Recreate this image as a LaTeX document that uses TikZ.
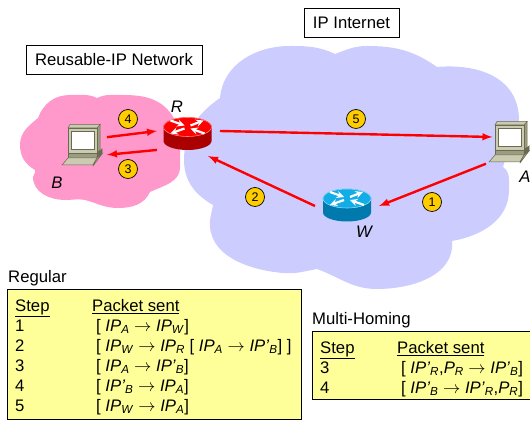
\documentclass[tikz,border=0pt]{standalone}
\usepackage{fontspec}
\setmainfont{Liberation Sans}
\definecolor{netblue}{HTML}{CCCCFF}
\definecolor{netpink}{HTML}{FF99CC}
\definecolor{steplabel}{HTML}{FFCC00}
\definecolor{tableyellow}{HTML}{FFFF99}
\definecolor{routerred}{HTML}{FF0000}
\definecolor{routerredside}{HTML}{AA0000}
\definecolor{routerblue}{HTML}{12ADE6}
\definecolor{routerblueside}{HTML}{0079AC}
\definecolor{laptoplight}{HTML}{CBCBB2}
\definecolor{laptopmid}{HTML}{9C9C80}
\definecolor{laptopdark}{HTML}{6A6A52}
\newcommand{\ip}[2]{\textit{#1}\textsubscript{\textit{#2}}}
\newcommand{\router}[4]{\begin{scope}[shift={(#1,#2)}]
        \fill[#4] (-24,0) -- (-24,-14) arc[start angle=180,end angle=360,x radius=24,y radius=9] -- (24,0) -- cycle;
        \draw[#3,fill=#3] (0,0) circle [x radius=24,y radius=9.5];
        \draw[#3!50!white,line width=.6] (-24,0) arc[start angle=180,end angle=360,x radius=24,y radius=9.5] (24,0) arc[start angle=0,end angle=180,x radius=24,y radius=9.5];
        \draw[white,line width=2.2,-stealth] (-17,6.5) -- (-3,1.5);
        \draw[white,line width=2.2,-stealth] (3,1.5) -- (16,6.5);
        \draw[white,line width=2.2,-stealth] (-3,-1.5) -- (-17,-6.5);
        \draw[white,line width=2.2,-stealth] (17,-6.5) -- (3,-1.5);
      \end{scope}}
\newcommand{\laptop}[2]{\begin{scope}[shift={(#1,#2)},draw=laptopdark,line width=.5]
        \filldraw[fill=laptopmid] (13,18) -- (16,21.5) -- (16,-4) -- (13,-7) -- cycle;
        \filldraw[fill=laptoplight] (-16,18) -- (-14,21.5) -- (16,21.5) -- (13,18) -- cycle;
        \filldraw[fill=laptoplight] (-16,18) rectangle (13,-7);
        \filldraw[fill=white,line width=1] (-12.5,14) rectangle (10,-4);
        \filldraw[fill=laptopmid] (-16,-7) rectangle (13,-12);
        \filldraw[fill=laptopdark] (13,-7) -- (18,-3) -- (18,-8) -- (13,-12) -- cycle;
        \filldraw[fill=laptoplight] (-22,-19) -- (9,-19) -- (13,-12) -- (-16,-12) -- cycle;
        \filldraw[fill=laptopmid] (9,-19) -- (13,-12) -- (18,-8) -- (9,-20) -- cycle;
      \end{scope}}
\begin{document}
\begin{tikzpicture}[x=1pt,y=1pt,font=\fontsize{16.7}{20}\selectfont,
        spot/.style={inner sep=0pt,outer sep=0pt},
        titlebox/.style={draw=black,line width=.8,fill=white,inner sep=0pt},
        tablebox/.style={draw=black,line width=1,fill=tableyellow,anchor=north west,inner sep=0pt},
        tablerows/.style={anchor=north west,inner sep=0pt},
        caption/.style={anchor=west,inner sep=0pt},
        hostname/.style={inner sep=0pt,font=\fontsize{16.7}{20}\selectfont\itshape},
        hop/.style={draw=red,line width=2.4,-latex},
        badge/.style={circle,draw=black,line width=.7,fill=steplabel,minimum size=19,inner sep=0pt,font=\fontsize{12.5}{14}\selectfont}]
        \useasboundingbox (0,0) rectangle (530,422);
        \fill[netpink] (97,324) to[out=25,in=180] (122,327) to[out=0,in=125] (172,307)
          to[out=-60,in=90] (180,255) to[out=-90,in=25] (150,230)
          to[out=-115,in=0] (118,214) to[out=180,in=-15] (85,222)
          to[out=170,in=0] (65,222) to[out=180,in=-90] (33,245)
          to[out=90,in=-60] (35,252) to[out=150,in=-90] (20,277)
          to[out=90,in=-140] (38,304) to[out=70,in=180] (70,327) to[out=0,in=155] (97,324) -- cycle;
        \fill[netblue] (220,324) to[out=85,in=180] (290,376) to[out=0,in=155] (335,368)
          to[out=20,in=180] (367,376) to[out=0,in=145] (437,355)
          to[out=5,in=90,looseness=1.1] (519,302) to[out=-90,in=75] (503,255)
          to[out=-35,in=90] (509,232) to[out=-90,in=10] (452,181)
          to[out=-85,in=0] (377,133) to[out=180,in=-20] (317,153)
          to[out=190,in=-5] (283,149) to[out=175,in=-95] (210,202)
          to[out=80,in=-100] (213,217) to[out=150,in=-90] (184,262)
          to[out=90,in=-145] (220,324) -- cycle;
        \node[titlebox,minimum width=176,minimum height=29] (reusable) at (114,362) {Reusable-IP Network};
        \node[titlebox,minimum width=95,minimum height=29] (internet) at (351.5,399.5) {IP Internet};
        \laptop{84}{276}
        \laptop{511}{279}
        \router{187.5}{295}{routerred}{routerredside}
        \router{347}{223.5}{routerblue}{routerblueside}
        \node[spot,minimum width=46,minimum height=40] (B) at (84,276) {};
        \node[spot,minimum width=44,minimum height=27] (A) at (508,271.5) {};
        \node[spot,minimum width=63,minimum height=50] (R) at (188.5,291) {};
        \node[spot,minimum width=64,minimum height=40] (W) at (347,216) {};
        \draw[hop] (A.211.5) -- (W.east);
        \draw[hop] (W.west) -- (R.-52);
        \draw[hop] (R.211.1) -- (B.-21);
        \draw[hop] (B.21) -- (R.west);
        \draw[hop] (R.east) -- (A.139.8);
        \node[badge] (one) at (432,220) {1};
        \node[badge] (two) at (255,225) {2};
        \node[badge] (three) at (128,253) {3};
        \node[badge] (four) at (128,303) {4};
        \node[badge] (five) at (356,303) {5};
        \node[hostname] (nameR) at (177,315) {R};
        \node[hostname] (nameW) at (364,190) {W};
        \node[hostname] (nameA) at (525,245) {A};
        \node[hostname] (nameB) at (57,239) {B};
        \node[caption] (regular) at (8,144) {Regular};
        \node[tablebox,minimum width=294,minimum height=130] (regularbox) at (7,133) {};
        \node[tablerows] (regularrows) at (15,125) {\begin{tabular}{@{}p{77pt}@{}l@{}}
          \underline{Step} & \underline{Packet sent}\\
          1 & \hspace{4pt}[ \ip{IP}{A} $\rightarrow$ \ip{IP}{W}]\\
          2 & \hspace{4pt}[ \ip{IP}{W} $\rightarrow$ \ip{IP}{R} [ \ip{IP}{A} $\rightarrow$ \ip{IP'}{B}] ]\\
          3 & \hspace{4pt}[ \ip{IP}{A} $\rightarrow$ \ip{IP'}{B}]\\
          4 & \hspace{4pt}[ \ip{IP'}{B} $\rightarrow$ \ip{IP}{A}]\\
          5 & \hspace{4pt}[ \ip{IP}{W} $\rightarrow$ \ip{IP}{A}]
        \end{tabular}};
        \node[caption] (multi) at (312,102) {Multi-Homing};
        \node[tablebox,minimum width=217.5,minimum height=68] (multibox) at (312,91) {};
        \node[tablerows] (multirows) at (320,83) {\begin{tabular}{@{}p{77pt}@{}l@{}}
          \underline{Step} & \underline{Packet sent}\\
          3 & \hspace{4pt}[ \ip{IP'}{R},\ip{P}{R} $\rightarrow$ \ip{IP'}{B}]\\
          4 & \hspace{4pt}[ \ip{IP'}{B} $\rightarrow$ \ip{IP'}{R},\ip{P}{R}]
        \end{tabular}};
      \end{tikzpicture}
\end{document}
